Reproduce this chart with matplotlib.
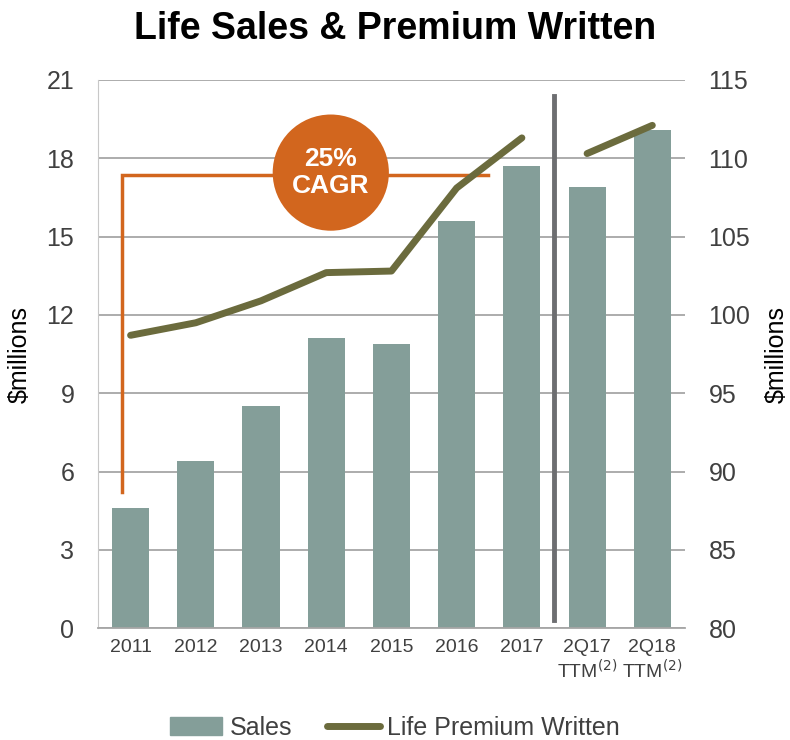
import numpy as np
import matplotlib
matplotlib.use('Agg')
import matplotlib.pyplot as plt
from matplotlib.lines import Line2D
from matplotlib.patches import Patch

plt.rcParams['font.family'] = ['Liberation Sans', 'DejaVu Sans']

# data
categories = ['2011', '2012', '2013', '2014', '2015', '2016', '2017',
              '2Q17\nTTM$^{(2)}$', '2Q18\nTTM$^{(2)}$']
sales = [4.6, 6.4, 8.5, 11.1, 10.9, 15.6, 17.7, 16.9, 19.1]
premium = [98.7, 99.5, 100.9, 102.7, 102.8, 108.1, 111.3, 110.3, 112.1]

bar_col = '#849e99'
line_col = '#6b6b3d'
orange = '#d2661e'
text_col = '#404040'

fig = plt.figure(figsize=(7.9, 7.4), dpi=100)
ax = fig.add_axes([0.124, 0.151, 0.743, 0.741])
ax2 = ax.twinx()

x = np.arange(len(categories))
ax.bar(x, sales, width=0.57, color=bar_col, zorder=2)
ax.set_ylim(0, 21)
ax.set_yticks(range(0, 22, 3))
ax.set_xlim(-0.5, len(categories) - 0.5)
ax.set_xticks(x)
ax.set_xticklabels(categories, fontsize=14, color=text_col, linespacing=1.15)
ax.tick_params(axis='x', length=0, pad=8)
ax.tick_params(axis='y', length=0, labelsize=18, pad=17, labelcolor=text_col)
ax.yaxis.grid(True, color='#a6a6a6', lw=1.3, zorder=0)
ax.set_axisbelow(True)
ax.set_ylabel('$millions', fontsize=18)
ax.yaxis.set_label_coords(-0.113, 0.5)
for s in ['top', 'right']:
    ax.spines[s].set_visible(False)
ax.spines['left'].set_color('#c8c8c8')
ax.spines['bottom'].set_color('#a6a6a6')
ax.spines['bottom'].set_linewidth(1.3)

# premium line, broken between annual and TTM
ax2.plot(x[:7], premium[:7], color=line_col, lw=5, solid_capstyle='round', zorder=3)
ax2.plot(x[7:], premium[7:], color=line_col, lw=5, solid_capstyle='round', zorder=3)
ax2.set_ylim(80, 115)
ax2.set_yticks(range(80, 116, 5))
ax2.tick_params(axis='y', length=0, labelsize=18, pad=17, labelcolor=text_col)
ax2.set_ylabel('$millions', fontsize=18, rotation=90)
ax2.yaxis.set_label_coords(1.136, 0.5)
for s in ['top', 'right', 'left', 'bottom']:
    ax2.spines[s].set_visible(False)

# separator between annual and TTM
ax.plot([6.5, 6.5], [0.3, 20.4], color='#6d6e71', lw=3.5, zorder=4, clip_on=False)

# CAGR bracket
ax.plot([-0.13, -0.13, 5.48], [5.2, 17.35, 17.35], color=orange, lw=2.5, zorder=4,
        solid_joinstyle='miter')
ax.scatter([3.07], [17.45], s=7000, color=orange, zorder=5, edgecolors='none')
ax.text(3.07, 17.45, '25%\nCAGR', ha='center', va='center', color='white',
        fontsize=19, fontweight='bold', zorder=6, linespacing=1.15)

fig.suptitle('Life Sales & Premium Written', fontsize=27, fontweight='bold', y=0.985)

handles = [Patch(color=bar_col), Line2D([], [], color=line_col, lw=5, solid_capstyle='round')]
fig.legend(handles, ['Sales', 'Life Premium Written'], loc='lower center',
           bbox_to_anchor=(0.5, -0.03), ncol=2, frameon=False, fontsize=18,
           handlelength=2.1, handletextpad=0.3, columnspacing=1.4, labelcolor=text_col)

fig.savefig('out.png', dpi=100)
